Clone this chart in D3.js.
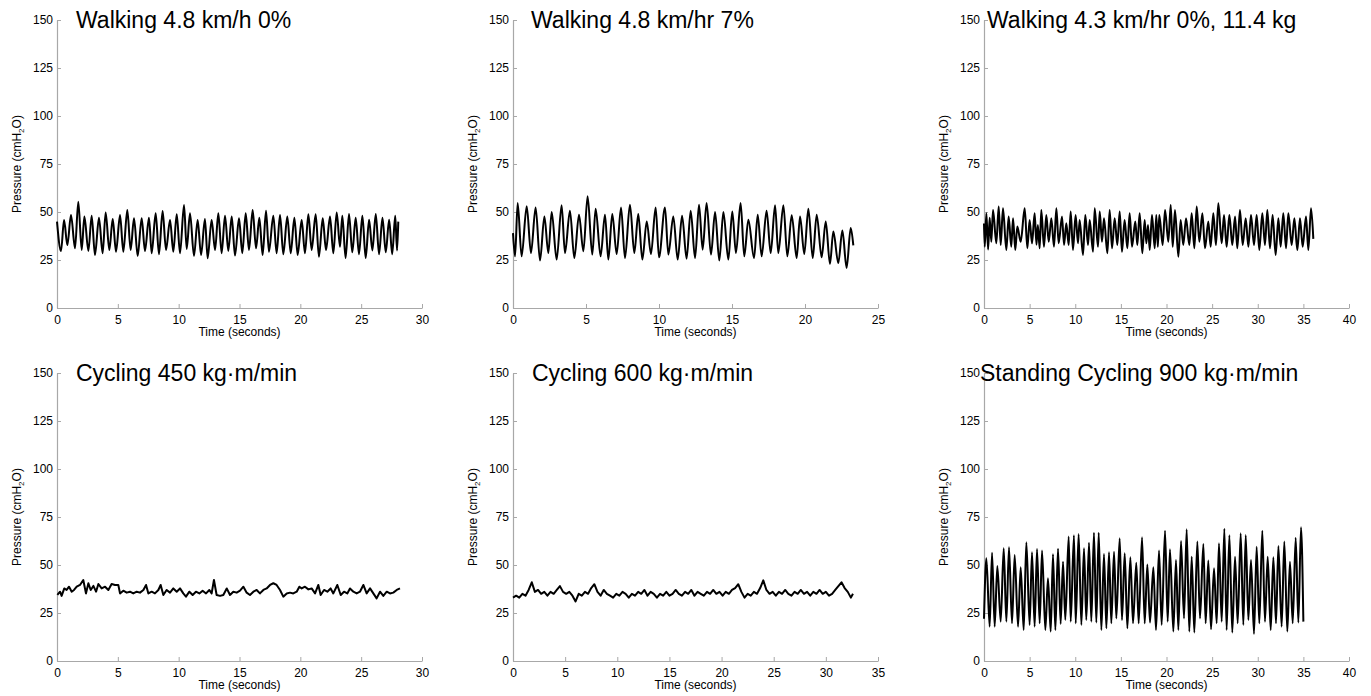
<!DOCTYPE html>
<html><head><meta charset="utf-8">
<script src="https://cdn.jsdelivr.net/npm/d3@7"></script>
<style>
body{margin:0;background:#fff}
text{font-family:"Liberation Sans",Arial,sans-serif}
</style>
</head><body><svg id="c" width="1371" height="696"></svg>
<script>
// ---------------- DATA ----------------
const titles = ["Walking 4.8 km/h 0%", "Walking 4.8 km/hr 7%", "Walking 4.3 km/hr 0%, 11.4 kg",
                "Cycling 450 kg\u00b7m/min", "Cycling 600 kg\u00b7m/min", "Standing Cycling 900 kg\u00b7m/min"];
const xMaxes = [30, 25, 40, 30, 35, 40];
const yTicks = [0, 25, 50, 75, 100, 125, 150];
const xLabel = "Time (seconds)";

// [time (s), pressure (cmH2O)]
const walk1 = [[0,45],[0.33,29.7],[0.58,45.8],[0.85,32.8],[1.15,48.4],[1.48,31.1],[1.75,55.4],[2.03,30.2],[2.25,47.6],[2.58,29.7],[2.85,48.1],[3.12,27.6],[3.45,47.0],[3.75,28.5],[4.0,49.8],[4.30,30.2],[4.58,46.4],[4.85,29.3],[5.18,48.4],[5.45,29.3],[5.78,51.0],[6.05,30.2],[6.33,46.7],[6.63,27.1],[6.96,46.7],[7.23,29.7],[7.56,47.0],[7.78,28.5],[8.11,49.3],[8.38,28.0],[8.68,50.5],[8.96,30.2],[9.29,45.8],[9.56,29.3],[9.84,48.8],[10.11,28.5],[10.44,53.6],[10.66,30.7],[10.93,49.3],[11.26,27.1],[11.56,45.8],[11.84,27.6],[12.16,46.4],[12.38,25.9],[12.71,45.8],[12.99,30.2],[13.26,49.3],[13.53,28.5],[13.81,48.1],[14.08,29.7],[14.36,47.6],[14.63,27.3],[14.96,46.7],[15.23,28.5],[15.51,49.3],[15.78,30.2],[16.08,51.0],[16.36,31.1],[16.63,47.0],[16.90,27.6],[17.18,50.7],[17.42,29.3],[17.78,48.1],[18.05,28.5],[18.33,48.4],[18.60,28.0],[18.93,47.6],[19.21,28.5],[19.51,47.0],[19.78,27.6],[20.11,45.8],[20.38,28.5],[20.66,48.8],[20.93,30.2],[21.26,48.8],[21.53,26.7],[21.84,46.7],[22.11,30.2],[22.44,47.6],[22.71,28.5],[22.99,49.8],[23.26,31.9],[23.45,48.1],[23.72,26],[24.0,49],[24.27,29],[24.55,47],[24.82,28],[25.1,48],[25.37,26],[25.65,46],[25.92,30],[26.2,49],[26.47,28],[26.75,47],[27.02,29],[27.3,46],[27.55,28],[27.8,48],[27.95,30],[28.05,45]];

const walk2 = [[0,39],[0.14,26.9],[0.32,54.7],[0.59,26.9],[0.94,53],[1.23,28.6],[1.55,52.4],[1.85,24.7],[2.15,47.7],[2.42,28.6],[2.65,50],[2.99,25.2],[3.33,53.5],[3.56,28.6],[3.90,50.7],[4.20,26],[4.52,48.6],[4.82,29.5],[5.11,58.2],[5.43,27.8],[5.66,51.7],[6.0,26.9],[6.30,48.6],[6.53,25.2],[6.80,49],[7.10,28.1],[7.40,52.4],[7.67,26],[8.01,53.8],[8.31,28.6],[8.58,49],[8.86,25.2],[9.16,45.1],[9.45,28.1],[9.77,52.4],[10.0,26.4],[10.41,52.4],[10.64,27.8],[10.98,47.7],[11.28,25.2],[11.58,48],[11.89,25.7],[12.17,50.7],[12.47,26],[12.74,53.8],[12.99,30.4],[13.26,54.7],[13.56,27.8],[13.84,50],[14.13,24.7],[14.41,50],[14.75,25.2],[15.02,50.3],[15.27,28.6],[15.59,54.7],[15.84,26.9],[16.12,46],[16.51,26],[16.76,48.6],[17.03,26.9],[17.37,50.7],[17.65,28.6],[17.95,53.5],[18.17,28.6],[18.52,53.5],[18.79,26.9],[19.09,48.3],[19.43,26],[19.66,47.7],[19.95,28.1],[20.23,51.7],[20.53,26],[20.80,48.6],[21.14,26.4],[21.42,45.1],[21.71,22.9],[21.94,39.9],[22.28,23.4],[22.56,40.3],[22.85,20.8],[23.13,41.7],[23.31,32.6]];

const walk3 = [[0,44],[0.08,31.9],[0.26,49.3],[0.45,30.5],[0.62,47],[0.80,34.5],[0.99,51.0],[1.35,33.7],[1.61,52.8],[1.83,32.8],[2.08,51.9],[2.45,30.2],[2.70,47.6],[2.99,31.9],[3.18,46.7],[3.43,30.2],[3.65,42.4],[4.02,34.5],[4.46,51.9],[4.75,31.1],[5.00,45.8],[5.26,33.7],[5.55,49.3],[5.75,33],[5.90,43.2],[6.10,31.1],[6.28,51.0],[6.57,31.9],[6.83,48.4],[7.09,34.5],[7.38,46.7],[7.67,31.9],[7.93,51.9],[8.18,33.7],[8.55,47.6],[8.77,32.8],[9.02,44.1],[9.28,32.8],[9.50,50.2],[9.75,30.2],[10.04,48.4],[10.30,33.7],[10.48,45.8],[10.85,27.6],[11.10,48.4],[11.40,32.8],[11.58,45.8],[11.95,29.3],[12.13,51.9],[12.49,31.9],[12.68,50.2],[12.93,34.5],[13.15,46.7],[13.52,28.5],[13.77,51.0],[14.03,31.1],[14.32,46.7],[14.61,32.8],[14.87,50.2],[15.12,29.3],[15.41,45.8],[15.71,31.1],[15.96,49.3],[16.22,31.9],[16.58,45.0],[16.80,32.8],[17.06,49.3],[17.35,28.5],[17.61,45.8],[17.79,33.7],[17.97,43.2],[18.16,30.2],[18.41,48.4],[18.71,31.1],[18.88,48.4],[19.05,31.9],[19.21,48.4],[19.58,32.8],[19.84,51.0],[20.20,34.5],[20.46,53.6],[20.68,31.9],[20.93,51.0],[21.30,26.7],[21.55,45.8],[21.84,32.8],[22.14,46.7],[22.50,32.8],[22.76,49.3],[23.05,31.1],[23.31,52.8],[23.60,34.5],[23.93,49.3],[24.22,31.1],[24.58,45.0],[24.84,31.9],[25.13,49.3],[25.42,32.8],[25.68,54.5],[26.05,33.7],[26.30,48.4],[26.59,31.9],[26.89,48.4],[27.21,32.8],[27.51,47.6],[27.76,31.1],[28.05,51.0],[28.35,32.8],[28.68,46.7],[28.97,31.9],[29.26,48.4],[29.59,32.8],[29.88,48.4],[30.17,30.2],[30.50,49.3],[30.79,32.8],[31.05,51.0],[31.34,31.1],[31.63,48.4],[31.96,27.6],[32.26,46.7],[32.51,31.9],[32.80,49.3],[33.10,31.1],[33.35,49.3],[33.72,32.8],[34.01,46.7],[34.34,30.2],[34.63,46.7],[34.92,31.9],[35.29,47.6],[35.54,30.2],[35.84,51.9],[36.09,36]];

const cyc450 = [[0.03,34.4],[0.25,36.1],[0.38,33.9],[0.60,37.8],[0.79,37.0],[0.99,38.7],[1.21,36.1],[1.40,37.0],[1.62,38.7],[1.89,39.6],[2.16,42.2],[2.38,35.2],[2.58,40.5],[2.77,37.0],[2.99,39.1],[3.21,36.1],[3.40,40.1],[3.67,37.8],[3.95,38.7],[4.22,37.0],[4.49,40.1],[4.77,39.6],[5.04,39.6],[5.18,35.2],[5.45,36.6],[5.73,35.6],[6.00,36.1],[6.27,35.2],[6.55,36.1],[6.82,35.6],[7.10,37.0],[7.32,39.6],[7.51,35.2],[7.78,36.1],[8.05,35.2],[8.33,37.0],[8.52,39.6],[8.74,34.4],[9.01,37.0],[9.29,35.6],[9.56,37.8],[9.84,36.1],[10.11,37.8],[10.38,35.2],[10.60,33.5],[10.88,36.1],[11.15,34.4],[11.42,36.1],[11.70,35.2],[11.97,36.6],[12.25,35.2],[12.52,37.0],[12.71,35.2],[12.90,42.2],[13.12,34.4],[13.40,33.9],[13.67,34.4],[13.95,37.8],[14.22,34.4],[14.49,36.1],[14.77,35.6],[15.04,36.6],[15.32,38.7],[15.59,35.6],[15.86,34.4],[16.14,36.1],[16.41,37.0],[16.68,35.2],[16.96,37.0],[17.23,37.8],[17.51,39.6],[17.78,40.5],[18.05,39.6],[18.33,37.0],[18.60,33.5],[18.88,35.2],[19.15,35.6],[19.42,35.2],[19.70,36.1],[19.92,38.7],[20.11,37.8],[20.38,38.7],[20.66,37.3],[20.93,37.8],[21.21,35.2],[21.48,39.6],[21.67,34.4],[21.95,37.0],[22.22,36.1],[22.49,37.8],[22.71,35.2],[23.04,39.6],[23.32,34.4],[23.59,36.1],[23.86,35.2],[24.08,37.8],[24.36,36.1],[24.63,35.2],[24.90,36.1],[25.18,39.6],[25.45,35.2],[25.73,37.8],[26.00,35.2],[26.27,32.6],[26.55,36.1],[26.82,33.9],[27.10,36.1],[27.37,35.2],[27.64,35.6],[27.92,37.0],[28.19,37.8]];

const cyc600 = [[0,33],[0.3,34],[0.6,33],[0.9,35],[1.2,34],[1.5,37],[1.8,41],[2.1,36],[2.4,37],[2.7,35],[3.0,36],[3.3,34],[3.6,36],[3.9,35],[4.2,37],[4.5,39],[4.8,36],[5.1,35],[5.4,36],[5.7,34],[6.0,31],[6.3,35],[6.6,34],[6.9,36],[7.2,35],[7.5,38],[7.8,40],[8.1,36],[8.4,34],[8.7,37],[9.0,35],[9.3,34],[9.6,33],[9.9,35],[10.2,34],[10.5,36],[10.8,35],[11.1,33],[11.4,35],[11.7,34],[12.0,36],[12.3,35],[12.6,37],[12.9,34],[13.2,36],[13.5,35],[13.8,33],[14.1,35],[14.4,34],[14.7,36],[15.0,34],[15.3,35],[15.6,37],[15.9,35],[16.2,34],[16.5,36],[16.8,35],[17.1,37],[17.4,34],[17.7,36],[18.0,35],[18.3,34],[18.6,36],[18.9,35],[19.2,37],[19.5,35],[19.8,36],[20.1,34],[20.4,36],[20.7,35],[21.0,37],[21.3,38],[21.6,40],[21.9,36],[22.2,33],[22.5,35],[22.8,34],[23.1,36],[23.4,35],[23.7,38],[24.0,42],[24.3,37],[24.6,35],[24.9,36],[25.2,34],[25.5,36],[25.8,35],[26.1,37],[26.4,35],[26.7,34],[27.0,36],[27.3,35],[27.6,37],[27.9,35],[28.2,36],[28.5,34],[28.8,36],[29.1,35],[29.4,37],[29.7,35],[30.0,36],[30.3,34],[30.6,35],[30.9,37],[31.2,39],[31.5,41],[31.8,38],[32.1,36],[32.4,33],[32.6,35]];

const stand900 = [[0,22],[0.26,53.5],[0.62,17.9],[0.88,56.4],[1.17,17.9],[1.46,49.5],[1.83,20.5],[2.16,58.7],[2.45,20.5],[2.74,59.2],[3.07,19.6],[3.36,55.2],[3.73,17.9],[4.02,48.8],[4.35,16.1],[4.64,61.8],[5.00,18.8],[5.26,56.6],[5.55,17.9],[5.81,58.3],[6.10,19.6],[6.36,57.5],[6.72,16.1],[7.01,43.1],[7.31,15.3],[7.56,55.6],[7.82,16.1],[8.11,58.5],[8.40,19.3],[8.66,51.7],[8.91,21.4],[9.28,64.8],[9.50,20.5],[9.86,65.5],[10.05,19.6],[10.37,66.1],[10.67,18.8],[10.96,58.7],[11.21,21.4],[11.51,61.6],[11.76,20.5],[12.05,66.8],[12.31,20.0],[12.57,66.8],[12.86,16.1],[13.15,55.7],[13.41,17.0],[13.70,56.6],[13.95,19.6],[14.25,56.9],[14.50,22.2],[14.87,63.9],[15.12,21.4],[15.42,56.1],[15.71,17.0],[16.04,54.0],[16.33,19.6],[16.69,51.2],[16.95,19.6],[17.32,64.4],[17.61,19.6],[17.90,50.3],[18.19,20.0],[18.56,48.8],[18.85,16.1],[19.18,57.5],[19.47,18.8],[19.84,67.9],[20.13,20.5],[20.38,58.2],[20.75,15.3],[21.04,52.6],[21.30,16.1],[21.59,62.5],[21.92,22.2],[22.21,68.6],[22.50,15.3],[22.76,54.3],[23.05,14.8],[23.38,62.2],[23.67,22.2],[24.04,61.0],[24.29,19.6],[24.58,52.3],[24.88,16.5],[25.21,48.3],[25.50,19.6],[25.75,61.3],[26.05,20.5],[26.34,68.9],[26.59,16.1],[26.89,65.5],[27.21,14.8],[27.51,54.3],[27.80,19.6],[28.13,66.5],[28.42,18.8],[28.68,65.6],[28.97,21.4],[29.26,52.6],[29.59,14.1],[29.88,59.5],[30.17,19.6],[30.50,67.9],[30.79,20.5],[31.09,54.3],[31.42,16.1],[31.71,54.0],[32.00,19.6],[32.26,59.9],[32.62,17.9],[32.91,62.2],[33.24,15.3],[33.53,51.7],[33.83,19.6],[34.16,64.2],[34.45,20.0],[34.74,69.6],[35.00,20.5]];

const seriesList = [walk1, walk2, walk3, cyc450, cyc600, stand900];

// ---------------- LAYOUT ----------------
const colX = [57, 513, 984], rowY = [20, 373], W = 365, H = 288;
const titleDx = [19, 18, 3, 19, 19, -4];
const smooth = [true, true, true, false, false, true];

const svg = d3.select("#c");

seriesList.forEach((data, i) => {
  const x0 = colX[i % 3], y0 = rowY[Math.floor(i / 3)];
  const g = svg.append("g").attr("transform", `translate(${x0},${y0})`);
  const x = d3.scaleLinear().domain([0, xMaxes[i]]).range([0, W]);
  const y = d3.scaleLinear().domain([0, 150]).range([H, 0]);

  const xa = g.append("g").attr("transform", `translate(0,${H})`)
    .call(d3.axisBottom(x).tickValues(d3.range(0, xMaxes[i] + 0.01, 5))
      .tickSize(-4).tickSizeOuter(0).tickPadding(7));
  const ya = g.append("g")
    .call(d3.axisLeft(y).tickValues(yTicks).tickSize(-4).tickSizeOuter(0).tickPadding(4));
  [xa, ya].forEach(a => {
    a.attr("color", "#a8a8a8");
    a.selectAll("text").attr("fill", "#000").style("font-size", "12px");
    a.select(".domain").attr("stroke-width", 1.2);
  });

  const line = d3.line().x(d => x(d[0])).y(d => y(d[1]))
    .curve(smooth[i] ? d3.curveMonotoneX : d3.curveLinear);
  g.append("path").datum(data).attr("d", line)
    .attr("fill", "none").attr("stroke", "#000").attr("stroke-width", 2)
    .attr("stroke-linejoin", "round");

  g.append("text").attr("x", titleDx[i]).attr("y", 8)
    .style("font-size", "23px").attr("fill", "#000").text(titles[i]);

  g.append("text").attr("x", W / 2).attr("y", H + 28).attr("text-anchor", "middle")
    .style("font-size", "12px").text(xLabel);

  const yl = g.append("text").attr("transform", `translate(-36,${H / 2}) rotate(-90)`)
    .attr("text-anchor", "middle").style("font-size", "12px");
  yl.append("tspan").text("Pressure (cmH");
  yl.append("tspan").attr("dy", 3).style("font-size", "8px").text("2");
  yl.append("tspan").attr("dy", -3).text("O)");
});
</script>
</body></html>
